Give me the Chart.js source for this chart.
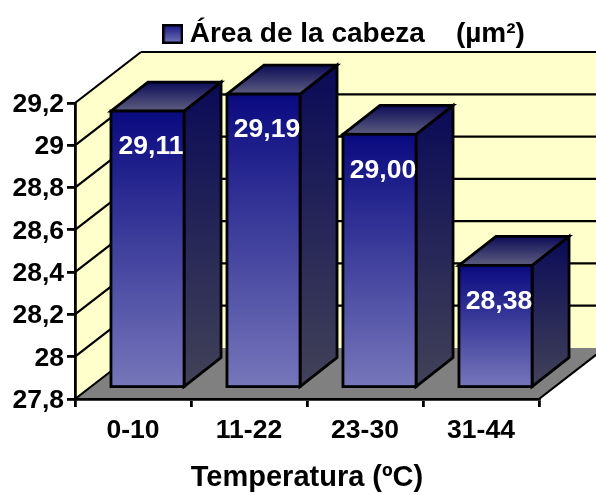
<!DOCTYPE html>
<html lang="es">

<head>
    <meta charset="UTF-8">
    <title>Área de la cabeza</title>
    <script src="https://cdn.jsdelivr.net/npm/chart.js"></script>
    <style>
        html, body { margin: 0; padding: 0; background: #fff; }
        #wrap { position: relative; width: 596px; height: 495px; overflow: hidden; }
    </style>
</head>

<body>
    <div id="wrap"><canvas id="chart" width="596" height="495"></canvas></div>

    <script>
        const categories = ['0-10', '11-22', '23-30', '31-44'];
        const areaValues = [29.11, 29.19, 29.00, 28.38];
        const valueLabels = ['29,11', '29,19', '29,00', '28,38'];
        const yTicks = [27.8, 28, 28.2, 28.4, 28.6, 28.8, 29, 29.2];
        const yTickLabels = ['27,8', '28', '28,2', '28,4', '28,6', '28,8', '29', '29,2'];
        const seriesName = 'Área de la cabeza    (µm²)';
        const xTitle = 'Temperatura (ºC)';

        const FONT = '"Liberation Sans", Arial, sans-serif';
        // depth of the fake 3D box
        const WALL_DX = 66, WALL_DY = -51;
        const BAR_DX = 14.5, BAR_DY = -11;
        const SIDE_DX = 37, SIDE_DY = -29;
        const LINE = 2.8;

        function vGrad(ctx, y0, y1, c0, c1) {
            const g = ctx.createLinearGradient(0, y0, 0, y1);
            g.addColorStop(0, c0);
            g.addColorStop(1, c1);
            return g;
        }

        // swatch for the legend, gradient like the bars
        const swatch = document.createElement('canvas');
        swatch.width = 21;
        swatch.height = 20;
        const sc = swatch.getContext('2d');
        sc.fillStyle = vGrad(sc, 0, 20, '#14147f', '#7777bb');
        sc.fillRect(0, 0, 21, 20);
        sc.strokeStyle = '#000';
        sc.lineWidth = 2.5;
        sc.strokeRect(1.25, 1.25, 18.5, 17.5);

        // back wall, left wall, floor and their grid lines
        const room = {
            id: 'room',
            beforeDraw(chart) {
                const { ctx, chartArea: a, scales: { y } } = chart;
                const poly = (pts, fill) => {
                    ctx.beginPath();
                    pts.forEach((p, i) => i ? ctx.lineTo(p[0], p[1]) : ctx.moveTo(p[0], p[1]));
                    ctx.closePath();
                    ctx.fillStyle = fill;
                    ctx.fill();
                };
                const line = (x0, y0, x1, y1) => {
                    ctx.beginPath();
                    ctx.moveTo(x0, y0);
                    ctx.lineTo(x1, y1);
                    ctx.stroke();
                };
                const bx = a.left + WALL_DX, bTop = a.top + WALL_DY, bBot = a.bottom + WALL_DY;
                ctx.save();
                poly([[a.left, a.bottom], [bx, bBot], [bx, bTop], [a.left, a.top]], '#ffffcc');
                poly([[bx, bBot], [bx, bTop], [a.right + WALL_DX, bTop], [a.right + WALL_DX, bBot]], '#ffffcc');
                poly([[a.left, a.bottom], [a.right, a.bottom], [a.right + WALL_DX, bBot], [bx, bBot]], '#808080');
                ctx.strokeStyle = '#000';
                ctx.lineWidth = 2.2;
                y.ticks.forEach(t => {
                    const py = y.getPixelForValue(t.value);
                    if (t.value > yTicks[0]) {
                        line(a.left, py, bx, py + WALL_DY);
                        line(bx, py + WALL_DY, a.right + WALL_DX, py + WALL_DY);
                    }
                });
                line(a.left, a.bottom, bx, bBot);
                line(a.right, a.bottom, a.right + WALL_DX, bBot);
                ctx.restore();
                // tick labels sit a touch lower than the library's middle baseline
                y.getLabelItems(a).forEach(item => { item.options.translation[1] += 1.5; });
            }
        };

        // side and top faces; the front face is the library's own bar, moved into the room
        const box3d = {
            id: 'box3d',
            beforeDatasetsDraw(chart) {
                const { ctx } = chart;
                ctx.save();
                ctx.strokeStyle = '#000';
                ctx.lineWidth = LINE;
                ctx.lineJoin = 'miter';
                chart.getDatasetMeta(0).data.forEach(bar => {
                    const r = bar.x + bar.width / 2 + BAR_DX;
                    const l = bar.x - bar.width / 2 + BAR_DX;
                    const t = bar.y + BAR_DY;
                    const b = bar.base + BAR_DY;
                    ctx.beginPath();
                    ctx.moveTo(r, t);
                    ctx.lineTo(r + SIDE_DX, t + SIDE_DY);
                    ctx.lineTo(r + SIDE_DX, b + SIDE_DY);
                    ctx.lineTo(r, b);
                    ctx.closePath();
                    ctx.fillStyle = vGrad(ctx, t + SIDE_DY, b, '#0a0a58', '#424258');
                    ctx.fill();
                    ctx.stroke();
                    ctx.beginPath();
                    ctx.moveTo(l, t);
                    ctx.lineTo(l + SIDE_DX, t + SIDE_DY);
                    ctx.lineTo(r + SIDE_DX, t + SIDE_DY);
                    ctx.lineTo(r, t);
                    ctx.closePath();
                    ctx.fillStyle = vGrad(ctx, t + SIDE_DY, t, '#0c0c58', '#5e5e80');
                    ctx.fill();
                    ctx.stroke();
                });
                ctx.restore();
            },
            beforeDatasetDraw(chart) {
                chart.ctx.save();
                chart.ctx.translate(BAR_DX, BAR_DY);
            },
            afterDatasetDraw(chart) {
                chart.ctx.restore();
            },
            afterDatasetsDraw(chart) {
                const { ctx } = chart;
                ctx.save();
                // outline centred on the bar edge, the library would inset it
                ctx.strokeStyle = '#000';
                ctx.lineWidth = LINE;
                chart.getDatasetMeta(0).data.forEach(bar => {
                    ctx.strokeRect(bar.x - bar.width / 2 + BAR_DX, bar.y + BAR_DY, bar.width, bar.base - bar.y);
                });
                ctx.fillStyle = '#fff';
                ctx.font = 'bold 26.5px ' + FONT;
                ctx.textAlign = 'center';
                ctx.textBaseline = 'middle';
                chart.getDatasetMeta(0).data.forEach((bar, i) => {
                    ctx.fillText(valueLabels[i], bar.x + BAR_DX + 3.5, bar.y + BAR_DY + 36);
                });
                ctx.restore();
            },
            afterLayout(chart) {
                // legend sits over the right part of the chart, not centred on it
                const w = chart.legend.width;
                chart.legend.left = 159.75;
                chart.legend.right = 159.75 + w;
                chart.legend.top = 10;
            }
        };

        new Chart(document.getElementById('chart'), {
            type: 'bar',
            data: {
                labels: categories,
                datasets: [{
                    label: seriesName,
                    data: areaValues,
                    base: yTicks[0],
                    borderWidth: 0,
                    barPercentage: 0.63,
                    categoryPercentage: 1,
                    backgroundColor: c => {
                        const y = c.chart.scales.y;
                        if (!y || c.parsed === undefined) return '#3a3a90';
                        return vGrad(c.chart.ctx, y.getPixelForValue(c.parsed.y), y.bottom, '#0a0a80', '#7777bb');
                    }
                }]
            },
            options: {
                responsive: false,
                animation: false,
                events: [],
                layout: { padding: { top: 55, right: 57, left: 0, bottom: 0 } },
                scales: {
                    x: {
                        afterFit: s => { s.height = 96; },
                        grid: { drawOnChartArea: false, tickLength: 8, tickColor: '#000', lineWidth: LINE },
                        border: { color: '#000', width: LINE },
                        ticks: { color: '#000', font: { family: FONT, size: 26.5, weight: 'bold' }, padding: 7.5, maxRotation: 0, autoSkip: false },
                        title: { display: true, text: xTitle, color: '#000', font: { family: FONT, size: 29, weight: 'bold' }, padding: { top: 0, bottom: 0 } }
                    },
                    y: {
                        min: yTicks[0],
                        max: yTicks[yTicks.length - 1],
                        afterFit: s => { s.width = 75; },
                        afterBuildTicks: s => { s.ticks = yTicks.map(v => ({ value: v })); },
                        grid: { drawOnChartArea: false, tickLength: 8, tickColor: '#000', lineWidth: LINE },
                        border: { color: '#000', width: LINE },
                        ticks: { color: '#000', font: { family: FONT, size: 26.5, weight: 'bold' }, padding: 3, autoSkip: false, callback: (v, i) => yTickLabels[i] }
                    }
                },
                plugins: {
                    tooltip: { enabled: false },
                    legend: {
                        position: 'top',
                        align: 'start',
                        labels: {
                            color: '#000',
                            padding: 10,
                            usePointStyle: true,
                            pointStyleWidth: 6,
                            font: { family: FONT, size: 28, weight: 'bold' },
                            generateLabels: () => [{ text: seriesName, pointStyle: swatch, lineWidth: 0, datasetIndex: 0 }]
                        }
                    }
                }
            },
            plugins: [room, box3d]
        });
    </script>
</body>

</html>
